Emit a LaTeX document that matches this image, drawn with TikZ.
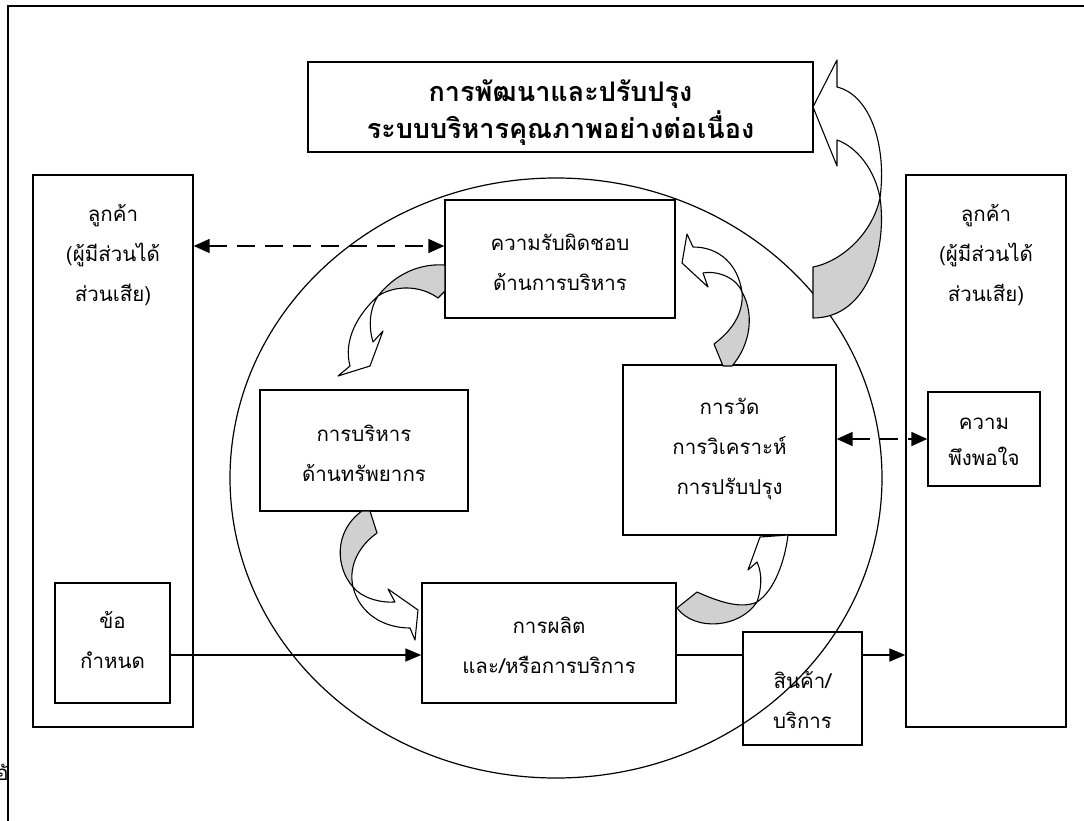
\documentclass[tikz,border=0pt]{standalone}
\usepackage{fontspec}
\newfontfamily\thai[Script=Thai]{Loma}
\usetikzlibrary{arrows.meta}
\definecolor{shade}{RGB}{208,208,208}
\begin{document}
\begin{tikzpicture}[x=1pt,y=-1pt,
  box/.style={draw,line width=1.4pt,inner sep=0pt},
  txt/.style={font=\thai\fontsize{20.5}{40}\selectfont,align=center,inner sep=0pt},
  bigtxt/.style={font=\thai\bfseries\fontsize{27}{37}\selectfont,align=center,inner sep=0pt},
  dasharrow/.style={line width=1.8pt,dash pattern=on 18pt off 10pt,{Triangle[length=16pt,width=14pt]}-{Triangle[length=16pt,width=14pt]}},
  solidarrow/.style={line width=1.8pt,-{Triangle[length=16pt,width=13pt]}},
  flow/.style={draw,line width=1.1pt,line join=round}]
\useasboundingbox (0,0) rectangle (1084,821);
\fill[white] (0,0) rectangle (1084,821);
% frame
\draw[line width=2.4pt] (8,821) -- (8,6) -- (1084,6);
% stray text
\node[txt,anchor=east] (stray) at (9,772) {อั};
% big ellipse
\draw[line width=1.2pt] (556,478) ellipse [x radius=326, y radius=300];
% boxes
\node[box,minimum width=505pt,minimum height=90pt] (topb) at (560.5,107) {};
\node[bigtxt] (topt) at (560.5,113) {การพัฒนาและปรับปรุง\\ระบบบริหารคุณภาพอย่างต่อเนื่อง};
\node[box,minimum width=160pt,minimum height=552pt] (leftb) at (113,451) {};
\node[txt] (leftt) at (113,255) {ลูกค้า\\(ผู้มีส่วนได้\\ส่วนเสีย)};
\node[box,minimum width=115pt,minimum height=120pt] (reqb) at (112.5,643) {};
\node[txt] (reqt) at (112.5,640) {ข้อ\\กำหนด};
\node[box,minimum width=160pt,minimum height=552pt] (rightb) at (986,451) {};
\node[txt] (rightt) at (986,255) {ลูกค้า\\(ผู้มีส่วนได้\\ส่วนเสีย)};
\node[box,minimum width=112pt,minimum height=94pt] (satb) at (984,439) {};
\node[txt,font=\thai\fontsize{20.5}{36}\selectfont] (satt) at (984,442) {ความ\\พึงพอใจ};
\node[box,minimum width=230pt,minimum height=118pt] (respb) at (560,259) {};
\node[txt] (respt) at (560,262) {ความรับผิดชอบ\\ด้านการบริหาร};
\node[box,minimum width=208pt,minimum height=121pt] (resb) at (364,450.5) {};
\node[txt] (rest) at (364,453) {การบริหาร\\ด้านทรัพยากร};
\node[box,minimum width=213pt,minimum height=170pt] (measb) at (729.5,450) {};
\node[txt] (meast) at (729.5,449) {การวัด\\การวิเคราะห์\\การปรับปรุง};
\node[box,minimum width=254pt,minimum height=120pt] (prodb) at (549,643) {};
\node[txt] (prodt) at (549,645) {การผลิต\\และ/หรือการบริการ};
\node[box,minimum width=119pt,minimum height=113pt] (goodsb) at (802.5,688.5) {};
\node[txt] (goodst) at (802.5,700) {สินค้า/\\บริการ};
% connectors
\draw[dasharrow] (leftb.east |- 0,246) -- (respb.west |- 0,246);
\draw[dasharrow] (measb.east |- 0,439) -- (satb.west |- 0,439);
\draw[solidarrow] (reqb.east |- 0,655) -- (prodb.west |- 0,655);
\draw[line width=1.8pt] (prodb.east |- 0,655) -- (goodsb.west |- 0,655);
\draw[solidarrow] (goodsb.east |- 0,655) -- (rightb.west |- 0,655);
% curved arrow 1: responsibility -> resources
\filldraw[flow,fill=shade] (445,265) .. controls (415,263) and (392,278) .. (378,296)
  .. controls (395,285) and (420,285) .. (438,298) -- (445,291) -- cycle;
\filldraw[flow,fill=white] (378,296) .. controls (358,314) and (343,340) .. (350,366)
  -- (338,376) -- (370,366) -- (383,331) -- (373,342)
  .. controls (368,325) and (370,308) .. (378,296) -- cycle;
% curved arrow 2: measurement -> responsibility
\filldraw[flow,fill=shade] (723,366) -- (714,344) .. controls (730,332) and (744,315) .. (742,292)
  .. controls (755,315) and (750,345) .. (732,366) -- cycle;
\filldraw[flow,fill=white] (742,292) .. controls (738,265) and (720,247) .. (693,247)
  -- (687,234) -- (682,263) -- (708,287) -- (703,273)
  .. controls (720,270) and (738,280) .. (742,292) -- cycle;
% curved arrow 3: resources -> production
\filldraw[flow,fill=shade] (362,511) -- (370,511) -- (377,533)
  .. controls (360,545) and (348,565) .. (353,587)
  .. controls (336,568) and (333,532) .. (362,511) -- cycle;
\filldraw[flow,fill=white] (353,587) .. controls (362,598) and (380,603) .. (395,602)
  -- (388,589) -- (418,610) -- (415,640) -- (410,628)
  .. controls (385,628) and (360,615) .. (353,587) -- cycle;
% curved arrow 4: production -> measurement
\filldraw[flow,fill=shade] (677,608) -- (697,592) .. controls (715,600) and (740,610) .. (757,602)
  .. controls (740,628) and (695,632) .. (677,608) -- cycle;
\filldraw[flow,fill=white] (757,602) .. controls (775,590) and (785,560) .. (788,535)
  -- (760,537) -- (748,570) -- (757,562)
  .. controls (763,575) and (761,590) .. (757,602) -- cycle;
% curved arrow 5: big one to top box
\filldraw[flow,fill=shade] (813,267) .. controls (840,262) and (872,235) .. (880,198)
  .. controls (887,245) and (870,318) .. (813,318) -- cycle;
\filldraw[flow,fill=white] (880,198) .. controls (887,145) and (870,95) .. (837,87)
  -- (837,60) -- (813,107) -- (837,166) -- (837,140)
  .. controls (857,147) and (875,170) .. (880,198) -- cycle;
\end{tikzpicture}
\end{document}
